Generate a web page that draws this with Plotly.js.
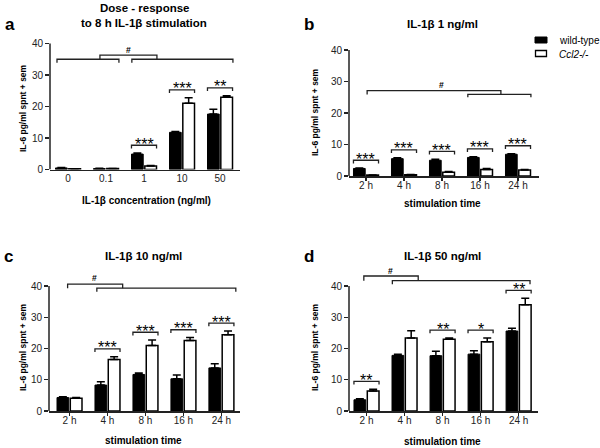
<!DOCTYPE html>
<html>
<head>
<meta charset="utf-8">
<script src="https://cdn.plot.ly/plotly-3.0.1.min.js"></script>
<style>
  html, body { margin: 0; padding: 0; background: #fff; }
  #chart { width: 600px; height: 448px; }
</style>
</head>
<body>
<div id="chart"></div>
<script>
// categories
var doseLabels = ['0', '0.1', '1', '10', '50'];
var timeLabels = ['2 h', '4 h', '8 h', '16 h', '24 h'];
var seriesNames = ['wild-type', '<i>Ccl2-/-</i>'];

// panel a: dose-response, 8 h
var wtA = [0.5, 0.3, 4.9, 11.8, 17.6];
var wtErrA = [0.1, 0.1, 0.3, 0.3, 1.5];
var koA = [0.2, 0.3, 1.1, 21.0, 22.9];
var koErrA = [0.05, 0.05, 0.2, 1.8, 0.5];
var sigA = ['', '', '***', '***', '**'];

// panel b: 1 ng/ml
var wtB = [2.4, 5.5, 5.0, 5.9, 6.9];
var wtErrB = [0.1, 0.3, 0.3, 0.2, 0.2];
var koB = [0.3, 0.4, 1.2, 2.1, 1.9];
var koErrB = [0.05, 0.05, 0.2, 0.3, 0.2];
var sigB = ['***', '***', '***', '***', '***'];

// panel c: 10 ng/ml
var wtC = [4.3, 8.3, 11.7, 10.3, 13.8];
var wtErrC = [0.3, 1.1, 0.5, 1.2, 1.3];
var koC = [4.05, 16.5, 21.0, 22.6, 24.4];
var koErrC = [0.25, 0.9, 1.7, 0.9, 1.2];
var sigC = ['', '***', '***', '***', '***'];

// panel d: 50 ng/ml
var wtD = [3.6, 17.8, 17.7, 18.2, 25.6];
var wtErrD = [0.3, 0.4, 1.4, 1.1, 0.9];
var koD = [6.4, 23.4, 23.0, 22.2, 34.0];
var koErrD = [0.6, 2.3, 0.4, 1.2, 2.1];
var sigD = ['**', '', '**', '*', '**'];

var FONT = 'Liberation Sans, Arial, sans-serif';
var LINE = '#222';
var idx = [0, 1, 2, 3, 4];

var traces = [];
var shapes = [];
var annotations = [];

function zeros(a) { return a.map(function () { return 0; }); }
function xr(n) { return n === 1 ? 'x' : 'x' + n; }
function yr(n) { return n === 1 ? 'y' : 'y' + n; }

function addBars(n, wt, wtErr, ko, koErr) {
    traces.push({
        type: 'bar', x: idx, y: wt, xaxis: xr(n), yaxis: yr(n),
        name: seriesNames[0], showlegend: false,
        marker: { color: '#000', line: { color: '#000', width: 1 } },
        error_y: { type: 'data', symmetric: false, array: wtErr, arrayminus: zeros(wtErr),
                   color: '#000', thickness: 1.5, width: 4 }
    });
    traces.push({
        type: 'bar', x: idx, y: ko, xaxis: xr(n), yaxis: yr(n),
        name: seriesNames[1], showlegend: false,
        marker: { color: '#fff', line: { color: '#000', width: 1.5 } },
        error_y: { type: 'data', symmetric: false, array: koErr, arrayminus: zeros(koErr),
                   color: '#000', thickness: 1.5, width: 4 }
    });
}

function bracket(n, x0, x1, y, drop) {
    shapes.push({
        type: 'path', xref: xr(n), yref: yr(n),
        path: 'M' + x0 + ',' + (y - drop) + ' L' + x0 + ',' + y + ' L' + x1 + ',' + y + ' L' + x1 + ',' + (y - drop),
        line: { color: LINE, width: 1.3 }
    });
}

function addStars(n, wt, wtErr, ko, koErr, sig) {
    sig.forEach(function (s, i) {
        if (!s) return;
        var top = Math.max(wt[i] + wtErr[i], ko[i] + koErr[i]) + 2.5;
        bracket(n, i - 0.33, i + 0.33, top, 1.0);
        annotations.push({
            xref: xr(n), yref: yr(n), x: i, y: top, text: s, showarrow: false,
            yanchor: 'middle', yshift: 1, font: { family: FONT, size: 16, color: '#000' }
        });
    });
}

function addHash(n, x, y) {
    annotations.push({
        xref: xr(n), yref: yr(n), x: x, y: y, text: '<b>#</b>', showarrow: false,
        font: { family: FONT, size: 8.5, color: '#000' }
    });
}

addBars(1, wtA, wtErrA, koA, koErrA);
addBars(2, wtB, wtErrB, koB, koErrB);
addBars(3, wtC, wtErrC, koC, koErrC);
addBars(4, wtD, wtErrD, koD, koErrD);

addStars(1, wtA, wtErrA, koA, koErrA, sigA);
addStars(2, wtB, wtErrB, koB, koErrB, sigB);
addStars(3, wtC, wtErrC, koC, koErrC, sigC);
addStars(4, wtD, wtErrD, koD, koErrD, sigD);

// trend (#) brackets
bracket(1, -0.29, 1.34, 35.0, 1.1);
bracket(1, 1.68, 4.34, 35.0, 1.1);
bracket(1, 0.84, 2.34, 36.3, 1.3);
addHash(1, 1.58, 38.0);

bracket(2, 0.03, 3.55, 27.1, 1.2);
bracket(2, 2.68, 4.34, 25.9, 0.9);
addHash(2, 2.0, 28.9);

bracket(3, -0.05, 1.4, 40.6, 1.3);
bracket(3, 0.72, 4.38, 39.3, 1.1);
addHash(3, 0.67, 42.5);

bracket(4, -0.07, 1.36, 43.2, 1.5);
bracket(4, 0.68, 4.3, 41.7, 1.1);
addHash(4, 0.64, 44.8);

// y axis lines only up to 40
[1, 2, 3, 4].forEach(function (n) {
    shapes.push({
        type: 'line', xref: xr(n) + ' domain', yref: yr(n),
        x0: 0, x1: 0, y0: 0, y1: 40, line: { color: LINE, width: 1.5 }
    });
});

function px(x) { return x / 600; }
function py(y) { return 1 - y / 448; }

function text(x, y, s, size, bold, angle, anchor) {
    annotations.push({
        xref: 'paper', yref: 'paper', x: px(x), y: py(y), text: bold ? '<b>' + s + '</b>' : s,
        showarrow: false, xanchor: anchor || 'center', yanchor: 'middle', textangle: angle || 0,
        font: { family: FONT, size: size, color: '#000' }
    });
}

// legend, drawn by hand to match the compact layout
shapes.push({ type: 'rect', xref: 'paper', yref: 'paper', x0: px(535), x1: px(547), y0: py(43), y1: py(37),
              fillcolor: '#000', line: { color: '#000', width: 1 } });
shapes.push({ type: 'rect', xref: 'paper', yref: 'paper', x0: px(535.5), x1: px(546.5), y0: py(56.5), y1: py(50.5),
              fillcolor: '#fff', line: { color: '#000', width: 1.3 } });
text(557, 40, seriesNames[0], 10, false, 0, 'left');
text(557, 54, seriesNames[1], 10, false, 0, 'left');

// panel letters and titles
text(10, 24, 'a', 17, true);
text(309, 24, 'b', 17, true);
text(8, 256, 'c', 17, true);
text(309, 256, 'd', 17, true);
text(144, 8, 'Dose - response', 11.5, true);
text(144, 23, 'to 8 h IL-1β stimulation', 11.5, true);
text(442, 24, 'IL-1β 1 ng/ml', 11.5, true);
text(143, 256, 'IL-1β 10 ng/ml', 11.5, true);
text(442, 256, 'IL-1β 50 ng/ml', 11.5, true);

// axis titles
var yTitle = 'IL-6 pg/ml spnt + sem';
text(23, 108, yTitle, 8.5, true, -90);
text(315, 112, yTitle, 8.5, true, -90);
text(23, 347, yTitle, 8.5, true, -90);
text(315, 347, yTitle, 8.5, true, -90);
text(146, 200, 'IL-1β concentration (ng/ml)', 10, true);
text(442, 203, 'stimulation time', 10, true);
text(143, 440, 'stimulation time', 10, true);
text(442, 441, 'stimulation time', 10, true);

function xAxis(domain, range, labels, anchor, tickcolor) {
    return {
        domain: domain, range: range, anchor: anchor,
        tickvals: idx, ticktext: labels, showline: true, linecolor: LINE, linewidth: 1.5,
        ticks: 'outside', ticklen: 3, tickwidth: 1.2, tickcolor: tickcolor,
        ticklabelstandoff: -4,
        showgrid: false, zeroline: false, fixedrange: true,
        tickfont: { family: FONT, size: 10, color: '#222' }
    };
}
function yAxis(domain, anchor) {
    return {
        domain: domain, range: [0, 46], anchor: anchor,
        tickvals: [0, 10, 20, 30, 40], showline: false,
        ticks: 'outside', ticklen: 4, tickwidth: 1.2, tickcolor: LINE,
        showgrid: false, zeroline: false, fixedrange: true,
        tickfont: { family: FONT, size: 10, color: '#222' }
    };
}

var layout = {
    width: 600, height: 448,
    margin: { l: 0, r: 0, t: 0, b: 0 },
    paper_bgcolor: '#fff', plot_bgcolor: 'rgba(0,0,0,0)',
    barmode: 'group', bargap: 0.3, bargroupgap: 0.12,
    showlegend: false,
    xaxis: xAxis([px(50), px(240)], [-0.474, 4.526], doseLabels, 'y', 'rgba(0,0,0,0)'),
    yaxis: yAxis([py(169.5), py(169.5 - 46 * 3.15)], 'x'),
    xaxis2: xAxis([px(349), px(539)], [-0.447, 4.553], timeLabels, 'y2', LINE),
    yaxis2: yAxis([py(176), py(176 - 46 * 3.15)], 'x2'),
    xaxis3: xAxis([px(49), px(240)], [-0.54, 4.49], timeLabels, 'y3', LINE),
    yaxis3: yAxis([py(411), py(411 - 46 * 3.125)], 'x3'),
    xaxis4: xAxis([px(349), px(538)], [-0.46, 4.51], timeLabels, 'y4', LINE),
    yaxis4: yAxis([py(411), py(411 - 46 * 3.125)], 'x4'),
    shapes: shapes,
    annotations: annotations
};

Plotly.newPlot('chart', traces, layout, { displayModeBar: false, staticPlot: true });
</script>
</body>
</html>
